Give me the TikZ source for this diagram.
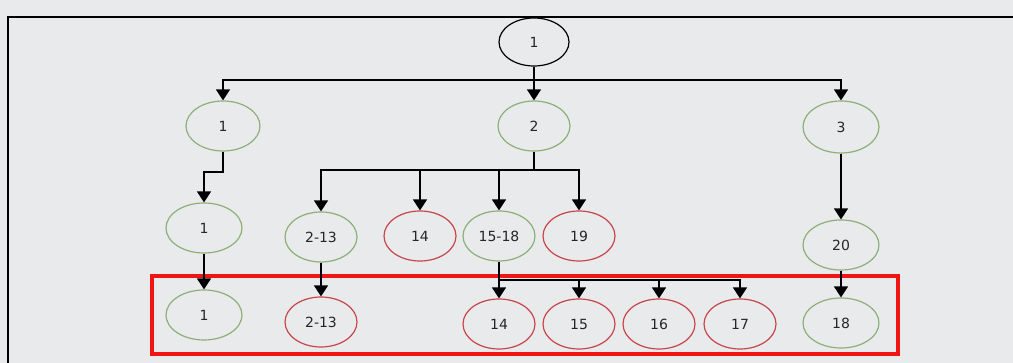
\documentclass[tikz,border=0pt]{standalone}
\usepackage{fontspec}
\setmainfont{DejaVu Sans}
\usetikzlibrary{shapes.geometric,arrows.meta}
\definecolor{bggrey}{HTML}{E9EAEC}
\definecolor{ngreen}{HTML}{8DAF78}
\definecolor{nred}{HTML}{C8464A}
\definecolor{boxred}{HTML}{F01414}
\tikzset{
  nd/.style={ellipse,draw,line width=1.2pt,minimum width=72pt,minimum height=50pt,inner sep=0pt,
    font=\fontsize{14}{16}\selectfont,text=black!85},
  gn/.style={nd,draw=ngreen},
  rn/.style={nd,draw=nred},
  bn/.style={nd,draw=black,minimum width=70pt,minimum height=48pt},
  ln/.style={draw=black,line width=1.4pt},
  arr/.style={ln,-{Triangle[width=14pt,length=11pt]}}
}
\begin{document}
\begin{tikzpicture}[x=1pt,y=-1pt]
\useasboundingbox (0,0) rectangle (1013,363);
\fill[bggrey] (0,0) rectangle (1013,363);
% frame
\draw[line width=2.2pt,black] (8,363) -- (8,17) -- (1013,17);
% red highlight box
\draw[boxred,line width=4pt] (152,276) rectangle (898,354);
% nodes
\node[bn] (r) at (534,42) {1};
\node[gn,minimum width=74pt] (a1) at (223,126) {1};
\node[gn] (a2) at (534,126) {2};
\node[gn,minimum width=76pt,minimum height=52pt] (a3) at (841,127) {3};
\node[gn,minimum width=76pt] (b1) at (204,228) {1};
\node[gn] (b2) at (321,237) {2-13};
\node[rn] (b3) at (420,236) {14};
\node[gn] (b4) at (499,236) {15-18};
\node[rn] (b5) at (579,236) {19};
\node[gn,minimum width=76pt] (b6) at (841,245) {20};
\node[gn,minimum width=76pt] (c1) at (204,315) {1};
\node[rn] (c2) at (321,322) {2-13};
\node[rn] (c3) at (499,324) {14};
\node[rn] (c4) at (579,324) {15};
\node[rn] (c5) at (659,324) {16};
\node[rn] (c6) at (740,324) {17};
\node[gn,minimum width=76pt] (c7) at (841,323) {18};
% bus levels
\coordinate (y1) at (0,80);
\coordinate (y2) at (0,172);
\coordinate (y3) at (0,170);
\coordinate (y4) at (0,280);
% level 1 -> 2
\draw[arr] (r.south) -- (a2.north);
\draw[arr] (r.south |- y1) -| (a1.north);
\draw[arr] (r.south |- y1) -| (a3.north);
% level 2 -> 3
\draw[arr] (a1.south) -- (a1.south |- y2) -| (b1.north);
\draw[ln,line width=2.4pt] (a2.south) -- (a2.south |- y3);
\draw[arr] (a2.south |- y3) -| (b2.north);
\draw[arr] (a2.south |- y3) -| (b3.north);
\draw[arr] (a2.south |- y3) -| (b4.north);
\draw[arr] (a2.south |- y3) -| (b5.north);
\draw[arr] (a3.south) -- (b6.north);
% level 3 -> 4
\draw[arr] (b1.south) -- (c1.north);
\draw[arr] (b2.south) -- (c2.north);
\draw[ln,line width=2.4pt] (b4.south) -- (b4.south |- y4);
\draw[arr] (b4.south |- y4) -- (c3.north);
\draw[arr] (b4.south |- y4) -| (c4.north);
\draw[arr] (b4.south |- y4) -| (c5.north);
\draw[arr] (b4.south |- y4) -| (c6.north);
\draw[arr] (b6.south) -- (c7.north);
\end{tikzpicture}
\end{document}
